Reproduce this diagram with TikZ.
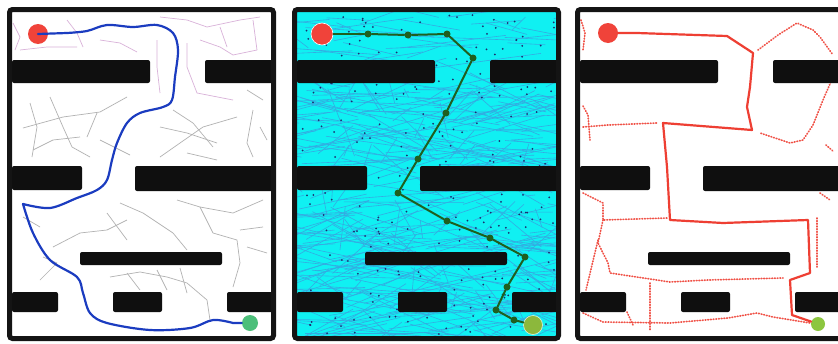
\documentclass[tikz,border=0pt]{standalone}
\usetikzlibrary{calc}
\usepackage{xcolor}

\definecolor{startred}{HTML}{F0433A}
\definecolor{goalgreen}{HTML}{4CBF7A}
\definecolor{goalolive}{HTML}{8CB83C}
\definecolor{goallime}{HTML}{8CC63F}
\definecolor{pathblue}{HTML}{1B3CC0}
\definecolor{pathgreen}{HTML}{1F5F1F}
\definecolor{pathred}{HTML}{EE3F33}
\definecolor{freecyan}{HTML}{10F0F2}
\definecolor{edgeblue}{HTML}{34ABE2}
\definecolor{sampleblue}{HTML}{1A2E6E}

% obstacles and outer wall, same in every panel
\newcommand{\drawmaze}{%
  \fill[wall] (12,60) rectangle (150,83);
  \fill[wall] (205,60) rectangle (274,83);
  \fill[wall] (12,166) rectangle (82,190);
  \fill[wall] (135,166) rectangle (274,191);
  \fill[wall] (80,252) rectangle (222,265);
  \fill[wall] (12,292) rectangle (58,312);
  \fill[wall] (113,292) rectangle (162,312);
  \fill[wall] (227,292) rectangle (274,312);
  \draw[frame] (9.5,9.5) rectangle (273.5,338.5);
}

\begin{document}
\begin{tikzpicture}[
    x=1pt, y=-1pt,
    wall/.style={fill=black!94, rounded corners=2pt},
    frame/.style={draw=black!92, line width=5pt, rounded corners=3pt},
    startpt/.style={circle, fill=startred, minimum size=20pt, inner sep=0pt},
    goalpt/.style={circle, fill=#1, minimum size=16pt, inner sep=0pt},
    waypt/.style={circle, fill=pathgreen, minimum size=7pt, inner sep=0pt},
    branch/.style={draw=black!30, line width=0.7pt, line join=round},
    branchtop/.style={draw=violet!30, line width=0.7pt, line join=round},
    edgeline/.style={draw=edgeblue, line width=0.6pt},
    sampledot/.style={fill=sampleblue},
    bluepath/.style={draw=pathblue, line width=2.2pt, line cap=round, line join=round},
    treepath/.style={draw=pathgreen, line width=2pt, line cap=round},
    redpath/.style={draw=pathred, line width=2.2pt, line cap=round, line join=round},
    explored/.style={draw=pathred!90, line width=1.7pt, line cap=round, dash pattern=on 0.7pt off 2pt}
]
\useasboundingbox (0,0) rectangle (838,343);
\clip (0,0) rectangle (838,343);

% ---- panel 1: random tree ----
\begin{scope}
  \fill[white] (12,12) rectangle (271,336);
  \draw[branchtop] (13,23) -- (20,37) -- (15,50);
  \draw[branchtop] (20,50) -- (47,47) -- (77,47);
  \draw[branchtop] (67,20) -- (77,33) -- (83,47);
  \draw[branchtop] (100,40) -- (120,43) -- (137,52);
  \draw[branchtop] (160,17) -- (187,20) -- (207,27) -- (240,20) -- (260,17);
  \draw[branchtop] (200,40) -- (220,47) -- (233,55) -- (257,50);
  \draw[branchtop] (220,27) -- (227,47);
  \draw[branchtop] (253,20) -- (257,50);
  \draw[branchtop] (157,40) -- (157,67) -- (160,93);
  \draw[branchtop] (187,43) -- (187,67) -- (197,93) -- (233,100);
  \draw[branch] (30,103) -- (37,127) -- (32,157);
  \draw[branch] (23,128) -- (63,117) -- (100,112) -- (127,97);
  \draw[branch] (50,97) -- (63,127) -- (72,147) -- (90,157);
  \draw[branch] (33,150) -- (53,140) -- (80,137);
  \draw[branch] (87,137) -- (97,113);
  \draw[branch] (100,140) -- (130,155);
  \draw[branch] (160,127) -- (187,133) -- (217,143);
  \draw[branch] (173,110) -- (193,123) -- (213,147);
  \draw[branch] (160,157) -- (180,143) -- (203,127) -- (237,117);
  \draw[branch] (247,90) -- (263,100);
  \draw[branch] (253,110) -- (247,143) -- (253,157);
  \draw[branch] (260,127) -- (267,140);
  \draw[branch] (187,153) -- (217,160);
  \draw[branch] (23,217) -- (40,227);
  \draw[branch] (53,247) -- (80,233) -- (107,230) -- (127,220);
  \draw[branch] (107,213) -- (127,240);
  \draw[branch] (120,203) -- (143,213) -- (173,233) -- (187,250);
  \draw[branch] (177,200) -- (200,207) -- (233,213) -- (263,200);
  \draw[branch] (200,207) -- (213,233) -- (237,240) -- (240,263) -- (233,287);
  \draw[branch] (240,230) -- (263,227);
  \draw[branch] (247,247) -- (267,253);
  \draw[branch] (43,257) -- (57,263) -- (40,280);
  \draw[branch] (110,277) -- (140,272) -- (167,277) -- (187,283) -- (207,300) -- (210,320);
  \draw[branch] (157,270) -- (167,290);
  \draw[branch] (180,268) -- (187,293);
  \draw[branch] (127,273) -- (140,290);
  \drawmaze
  \node[startpt] (s1) at (38,34) {};
  \node[goalpt=goalgreen] (g1) at (250,323) {};
  \draw[bluepath] (s1) -- plot[smooth, tension=0.55] coordinates {
    (67,33) (87,31) (107,25) (133,27) (157,25) (173,33) (178,50) (175,77)
    (172,100) (163,107) (140,113) (127,123) (117,143) (112,160) (107,180)
    (97,190) (77,198) (50,208) (23,204)} -- plot[smooth, tension=0.55] coordinates {
    (23,204) (33,233) (50,260) (77,277) (83,293) (90,313) (107,323) (150,330)
    (190,328) (213,320) (233,323)} -- (g1);
\end{scope}

% ---- panel 2: sampled roadmap ----
\begin{scope}[xshift=285pt]
  \fill[freecyan] (12,12) rectangle (271,336);
  \begin{scope}
    \clip (12,12) rectangle (271,336);
    \pgfmathsetseed{17}
    \foreach \i in {1,...,35}{
      \pgfmathsetmacro\xa{14+255*rnd}
      \pgfmathsetmacro\ya{16+40*rnd}
      \draw[edgeline] (\xa,\ya) -- ({\xa+(rnd-0.5)*260},{\ya+(rnd-0.5)*30});
    }
    \foreach \i in {1,...,150}{
      \pgfmathsetmacro\xa{14+255*rnd}
      \pgfmathsetmacro\ya{86+80*rnd}
      \draw[edgeline] (\xa,\ya) -- ({\xa+(rnd-0.5)*300},{\ya+(rnd-0.5)*80});
    }
    \foreach \i in {1,...,230}{
      \pgfmathsetmacro\xa{14+255*rnd}
      \pgfmathsetmacro\ya{192+144*rnd}
      \draw[edgeline] (\xa,\ya) -- ({\xa+(rnd-0.5)*300},{\ya+(rnd-0.5)*90});
    }
    \foreach \i in {1,...,280}{
      \fill[sampledot] ({15+254*rnd},{15+320*rnd}) circle (1);
    }
  \end{scope}
  \drawmaze
  \node[startpt, minimum size=22pt, draw=white, line width=0.6pt] (s2) at (37,34) {};
  \node[goalpt=goalolive, minimum size=19pt, draw=white!80!goalolive, line width=0.6pt] (g2) at (248,325) {};
  \node[waypt] (w1) at (83,34) {};
  \node[waypt] (w2) at (123,35) {};
  \node[waypt] (w3) at (162,34) {};
  \node[waypt] (w4) at (188,58) {};
  \node[waypt] (w5) at (161,113) {};
  \node[waypt] (w6) at (133,159) {};
  \node[waypt] (w7) at (113,193) {};
  \node[waypt] (w8) at (162,221) {};
  \node[waypt] (w9) at (205,238) {};
  \node[waypt] (w10) at (240,257) {};
  \node[waypt] (w11) at (222,287) {};
  \node[waypt] (w12) at (211,310) {};
  \node[waypt] (w13) at (229,320) {};
  \foreach \a/\b in {s2/w1, w1/w2, w2/w3, w3/w4, w4/w5, w5/w6, w6/w7, w7/w8,
                     w8/w9, w9/w10, w10/w11, w11/w12, w12/w13, w13/g2}
    \draw[treepath] (\a) -- (\b);
\end{scope}

% ---- panel 3: explored frontier ----
\begin{scope}[xshift=568pt]
  \fill[white] (12,12) rectangle (271,336);
  \draw[explored] (190,50) -- (210,35) -- (229,23) -- (245,30) -- (252,37) -- (265,55);
  \draw[explored] (265,77) -- (255,100) -- (245,125) -- (235,140) -- (222,143) -- (192,133);
  \draw[explored] (15,127) -- (40,125) -- (89,123);
  \draw[explored] (15,106) -- (20,115) -- (22,140);
  \draw[explored] (13,20) -- (17,33) -- (15,50);
  \draw[explored] (15,193) -- (35,203) -- (35,220) -- (100,218);
  \draw[explored] (35,220) -- (30,243) -- (40,263) -- (42,273) -- (102,282) -- (140,280) -- (215,278);
  \draw[explored] (30,240) -- (18,290);
  \draw[explored] (249,218) -- (249,245) -- (249,267);
  \draw[explored] (15,313) -- (35,322) -- (102,323) -- (160,318) -- (189,313) -- (205,317) -- (242,323);
  \draw[explored] (82,283) -- (82,330);
  \draw[explored] (59,312) -- (65,325);
  \draw[explored] (258,145) -- (266,152);
  \draw[explored] (252,193) -- (262,200);
  \drawmaze
  \node[startpt] (s3) at (40,33) {};
  \node[goalpt=goallime, minimum size=14pt] (g3) at (250,324) {};
  \draw[redpath] (s3) -- (69,33) -- (159,36) -- (185,53) -- (182,87) -- (179,107)
    -- (184,130) -- (95,123) -- (99,167) -- (102,220) -- (155,223) -- (240,220)
    -- (242,273) -- (222,280) -- (224,315) -- (g3);
\end{scope}
\end{tikzpicture}
\end{document}
